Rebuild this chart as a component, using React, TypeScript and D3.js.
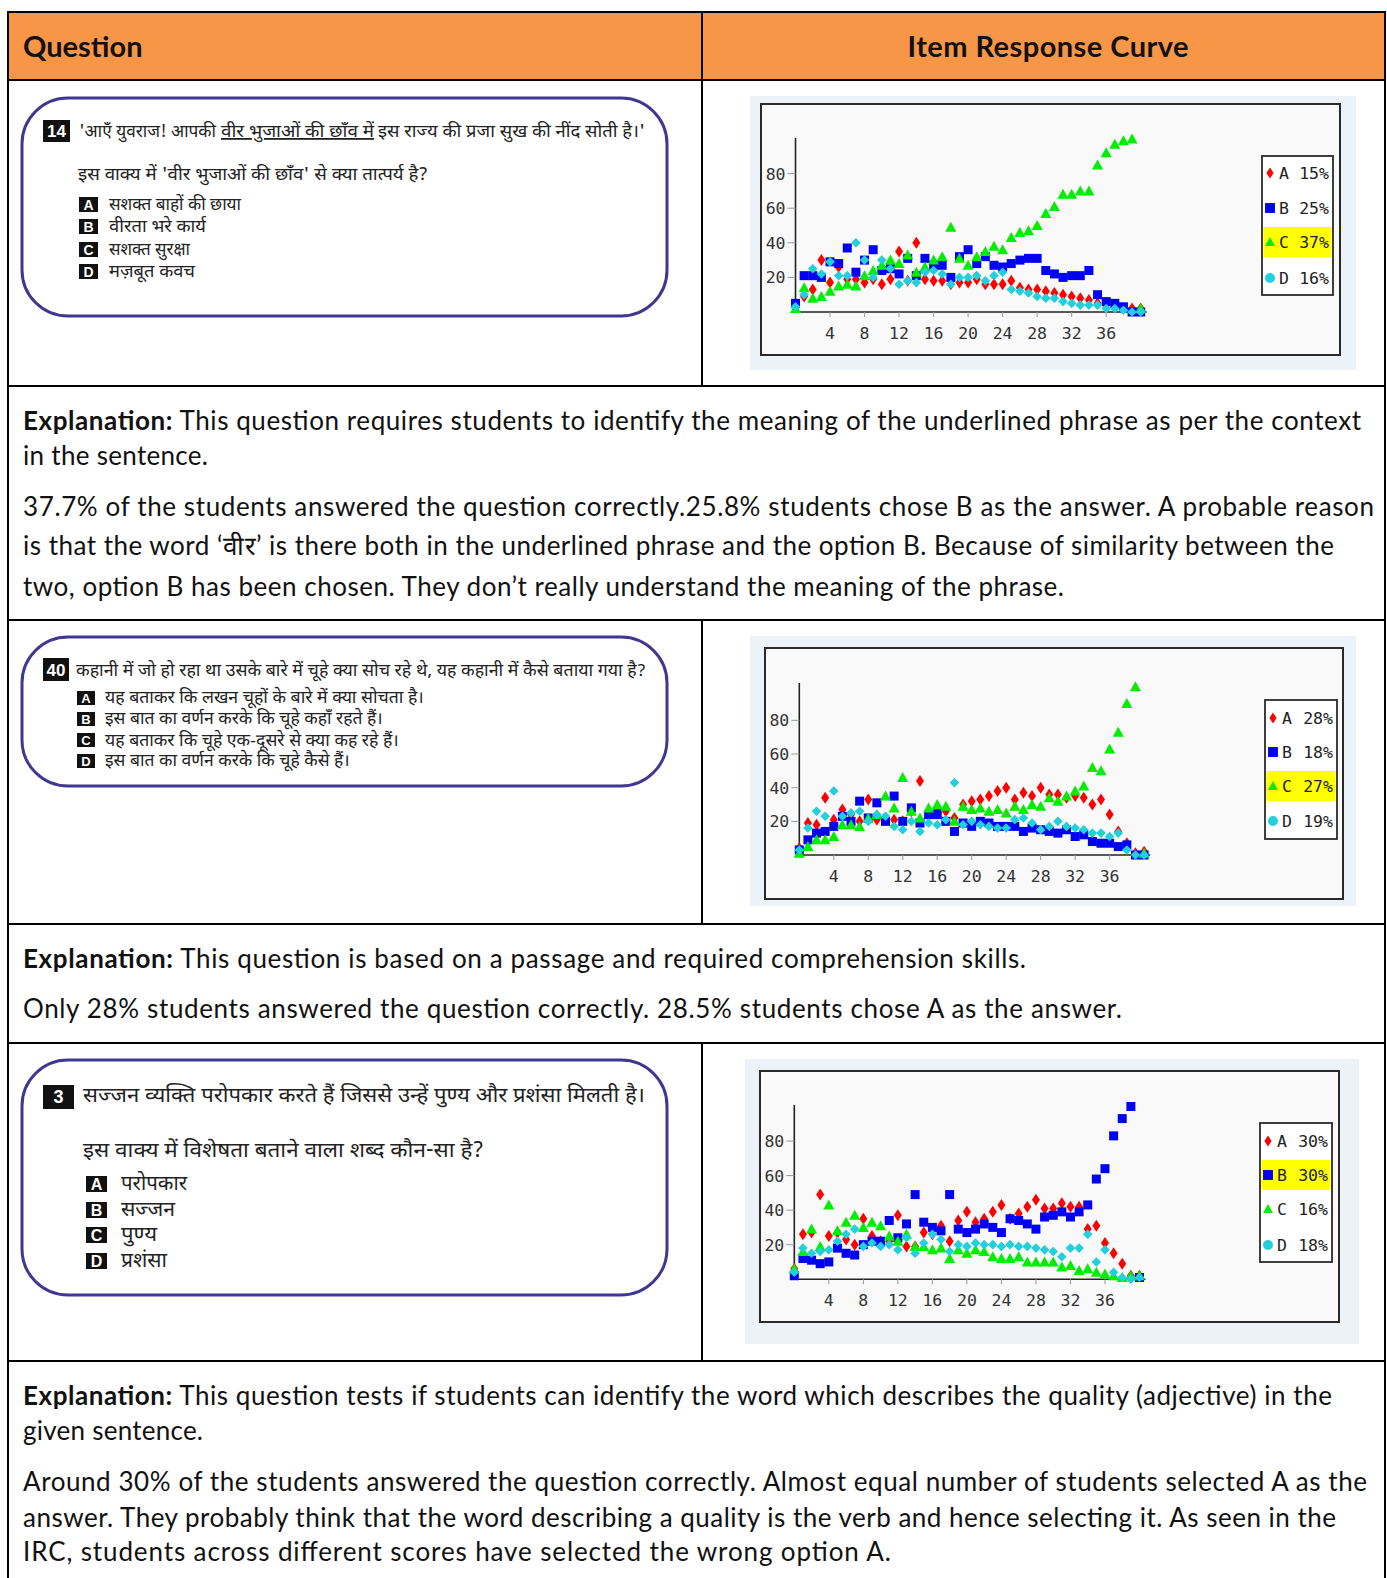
import React from "react";
import * as d3 from "d3";

// ---------- DATA ----------
const scores = d3.range(0, 41);
const optionLabels = ["A", "B", "C", "D"];
const xTicks = [4, 8, 12, 16, 20, 24, 28, 32, 36];
const yTicks = [20, 40, 60, 80];

// Question 14
const q14A = [3, 9, 13, 30, 17, 26, 19, 19, 17, 19, 16, 19, 35, 18, 40, 19, 18, 18, 16, 17, 17, 19, 16, 16, 16, 18, 14, 13, 13, 12, 11, 10, 9, 8, 7, 5, 4, 3, 2, 2, 2];
const q14B = [5, 21, 21, 20, 29, 28, 37, 23, 30, 36, 24, 25, 22, 31, 21, 31, 27, 27, 20, 32, 36, 28, 32, 27, 26, 28, 30, 31, 31, 24, 22, 20, 21, 21, 24, 10, 6, 5, 3, 0, 0];
const q14C = [2, 14, 8, 9, 12, 15, 16, 15, 21, 24, 27, 30, 28, 33, 23, 26, 30, 32, 49, 31, 27, 32, 35, 38, 36, 43, 46, 47, 50, 57, 61, 68, 68, 70, 70, 85, 92, 97, 99, 100, 2];
const q14D = [3, 10, 25, 22, 29, 21, 21, 40, 30, 20, 30, 25, 16, 18, 17, 23, 24, 22, 16, 20, 20, 21, 18, 21, 23, 13, 12, 11, 9, 8, 8, 6, 5, 4, 4, 4, 2, 2, 1, 0, 0];
const legend14 = [15, 25, 37, 16];

// Question 40
const q40A = [4, 19, 18, 34, 21, 27, 24, 20, 33, 21, 22, 21, 20, 26, 44, 24, 27, 26, 22, 30, 32, 33, 35, 38, 40, 33, 37, 35, 40, 36, 36, 34, 35, 34, 30, 33, 24, 14, 7, 1, 2];
const q40B = [3, 9, 13, 14, 17, 23, 20, 32, 22, 31, 20, 35, 20, 28, 19, 24, 24, 20, 14, 19, 17, 20, 19, 17, 17, 17, 14, 16, 15, 14, 13, 15, 11, 12, 8, 7, 7, 5, 6, 0, 0];
const q40C = [1, 5, 9, 9, 11, 18, 18, 17, 22, 24, 35, 28, 46, 26, 22, 28, 30, 29, 20, 29, 27, 28, 26, 27, 25, 29, 27, 30, 29, 34, 32, 35, 38, 41, 52, 50, 63, 73, 90, 100, 1];
const q40D = [3, 16, 26, 23, 38, 23, 25, 26, 20, 24, 23, 17, 15, 20, 14, 19, 18, 21, 43, 18, 20, 18, 17, 16, 16, 21, 22, 19, 15, 17, 20, 17, 16, 15, 13, 13, 11, 13, 3, 0, 0];
const legend40 = [28, 18, 27, 19];

// Question 3
const q3A = [6, 26, 27, 49, 25, 27, 23, 20, 35, 25, 22, 22, 37, 19, 19, 27, 26, 31, 22, 34, 39, 33, 35, 39, 43, 35, 38, 42, 46, 41, 41, 44, 42, 42, 29, 31, 21, 15, 9, 2, 2];
const q3B = [2, 12, 11, 9, 10, 18, 15, 14, 20, 22, 22, 34, 24, 32, 49, 33, 30, 28, 49, 29, 27, 29, 32, 30, 27, 35, 34, 32, 29, 36, 37, 39, 36, 39, 43, 58, 64, 83, 93, 100, 1];
const q3C = [6, 16, 29, 19, 43, 28, 33, 37, 30, 33, 31, 25, 22, 26, 19, 19, 17, 18, 12, 17, 15, 17, 16, 13, 12, 12, 13, 10, 10, 10, 10, 7, 8, 5, 6, 4, 3, 2, 1, 2, 2];
const q3D = [4, 18, 15, 16, 17, 22, 26, 29, 19, 21, 19, 20, 17, 24, 15, 21, 26, 23, 16, 20, 19, 21, 20, 20, 19, 20, 19, 19, 18, 17, 16, 13, 18, 18, 26, 10, 17, 4, 1, 0, 1];
const legend3 = [30, 30, 16, 18];

// Text
const q14Line1a = "'आएँ युवराज! आपकी";
const q14Line1b = "वीर भुजाओं की छाँव में";
const q14Line1c = "इस राज्य की प्रजा सुख की नींद सोती है।'";
const q14Line2 = "इस वाक्य में 'वीर भुजाओं की छाँव' से क्या तात्पर्य है?";
const q14Options = ["सशक्त बाहों की छाया", "वीरता भरे कार्य", "सशक्त सुरक्षा", "मज़बूत कवच"];

const q40Line1 = "कहानी में जो हो रहा था उसके बारे में चूहे क्या सोच रहे थे, यह कहानी में कैसे बताया गया है?";
const q40Options = [
  "यह बताकर कि लखन चूहों के बारे में क्या सोचता है।",
  "इस बात का वर्णन करके कि चूहे कहाँ रहते हैं।",
  "यह बताकर कि चूहे एक-दूसरे से क्या कह रहे हैं।",
  "इस बात का वर्णन करके कि चूहे कैसे हैं।",
];

const q3Line1 = "सज्जन व्यक्ति परोपकार करते हैं जिससे उन्हें पुण्य और प्रशंसा मिलती है।";
const q3Line2 = "इस वाक्य में विशेषता बताने वाला शब्द कौन-सा है?";
const q3Options = ["परोपकार", "सज्जन", "पुण्य", "प्रशंसा"];

const exp14Para1 = [
  " This question requires students to identify the meaning of the underlined phrase as per the context",
  "in the sentence.",
];
const exp14Para2 = [
  "37.7% of the students answered the question correctly.25.8% students chose B as the answer. A probable reason",
  "is that the word \u2018वीर\u2019 is there both in the underlined phrase and the option B. Because of similarity between the",
  "two, option B has been chosen. They don\u2019t really understand the meaning of the phrase.",
];
const exp40Para1 = [" This question is based on a passage and required comprehension skills."];
const exp40Para2 = ["Only 28% students answered the question correctly. 28.5% students chose A as the answer."];
const exp3Para1 = [
  " This question tests if students can identify the word which describes the quality (adjective) in the",
  "given sentence.",
];
const exp3Para2 = [
  "Around 30% of the students answered the question correctly. Almost equal number of students selected A as the",
  "answer. They probably think that the word describing a quality is the verb and hence selecting it. As seen in the",
  "IRC, students across different scores have selected the wrong option A.",
];

// ---------- STYLE / LAYOUT ----------
const W = 1387;
const H = 1578;
const COLORS = ["#ff0000", "#0000f5", "#00ee00", "#22d0dc"];
const ORANGE = "#f79646";
const HINDI = "'Noto Sans Devanagari', 'Lohit Devanagari', 'Noto Sans', sans-serif";
const LATIN = "Lato, 'Open Sans', sans-serif";
const MONO = "'DejaVu Sans Mono', monospace";
const BOX_STROKE = "#3f3790";

const markerPaths = [
  "M0,-6L4,0L0,6L-4,0Z",
  "M-4.5,-4.5H4.5V4.5H-4.5Z",
  "M0,-5.5L5.5,4.5L-5.5,4.5Z",
  "M0,-4.8L4.8,0L0,4.8L-4.8,0Z",
];

const chartLayouts = [
  { panel: [750, 96, 1356, 370], box: [761, 104, 1340, 355], x0: 795.5, x40: 1140.7, y0: 312, y100: 139, axisTop: 138, legend: [1262, 156, 1333, 295], rowY: [173, 208, 242, 278] },
  { panel: [750, 636, 1356, 906], box: [765, 648, 1343, 899], x0: 799.3, x40: 1144.1, y0: 855, y100: 686.7, axisTop: 683, legend: [1265, 700, 1337, 839], rowY: [718, 752, 786, 821] },
  { panel: [745, 1059, 1359, 1344], box: [760, 1071, 1339, 1322], x0: 794.3, x40: 1139.5, y0: 1279.2, y100: 1106.5, axisTop: 1105, legend: [1260, 1123, 1332, 1262], rowY: [1141, 1175, 1209, 1245] },
];

function IRC({ layout, series, pct, highlight }: any) {
  const x = d3.scaleLinear().domain([0, 40]).range([layout.x0, layout.x40]);
  const y = d3.scaleLinear().domain([0, 100]).range([layout.y0, layout.y100]);
  const [px0, py0, px1, py1] = layout.panel;
  const [bx0, by0, bx1, by1] = layout.box;
  const [lx0, ly0, lx1, ly1] = layout.legend;
  return (
    <g>
      <rect x={px0} y={py0} width={px1 - px0} height={py1 - py0} fill="#edf2f9" />
      <rect x={bx0} y={by0} width={bx1 - bx0} height={by1 - by0} fill="#f9f9f9" stroke="#2a2a2a" strokeWidth={2} />
      {/* axes */}
      <line x1={x(0)} x2={x(0)} y1={y(0)} y2={layout.axisTop} stroke="#222" strokeWidth={1.6} />
      <line x1={x(0)} x2={x(40) + 6} y1={y(0)} y2={y(0)} stroke="#222" strokeWidth={1.6} />
      {yTicks.map((t) => (
        <g key={"y" + t}>
          <line x1={x(0) - 8} x2={x(0)} y1={y(t)} y2={y(t)} stroke="#999" strokeWidth={1} />
          <text x={x(0) - 10} y={y(t) + 6} textAnchor="end" fontFamily={MONO} fontSize={16.5} fill="#333">{t}</text>
        </g>
      ))}
      {xTicks.map((t) => (
        <g key={"x" + t}>
          <line x1={x(t)} x2={x(t)} y1={y(0)} y2={y(0) + 5} stroke="#999" strokeWidth={1} />
          <text x={x(t)} y={y(0) + 27} textAnchor="middle" fontFamily={MONO} fontSize={16.5} fill="#333">{t}</text>
        </g>
      ))}
      {/* points */}
      {series.map((s: number[], si: number) => (
        <g key={"s" + si} fill={COLORS[si]}>
          {s.map((v, i) => (
            <path key={i} d={markerPaths[si]} transform={`translate(${x(scores[i])},${y(v)})`} />
          ))}
        </g>
      ))}
      {/* legend */}
      <rect x={lx0} y={ly0} width={lx1 - lx0} height={ly1 - ly0} fill="#ffffff" stroke="#2a2a2a" strokeWidth={1.8} />
      <rect x={lx0 + 1.5} y={layout.rowY[highlight] - 15} width={lx1 - lx0 - 3} height={30} fill="#ffff00" />
      {optionLabels.map((lab, i) => (
        <g key={lab}>
          {i === 3 ? (
            <circle cx={lx0 + 8} cy={layout.rowY[i]} r={5} fill={COLORS[i]} />
          ) : (
            <path d={markerPaths[i]} transform={`translate(${lx0 + 8},${layout.rowY[i]}) scale(${i === 1 ? 1.1 : 0.9})`} fill={COLORS[i]} />
          )}
          <text x={lx0 + 17} y={layout.rowY[i] + 6} fontFamily={MONO} fontSize={16.5} fill="#222">{lab}</text>
          <text x={lx1 - 4} y={layout.rowY[i] + 6} textAnchor="end" fontFamily={MONO} fontSize={16.5} fill="#222">{pct[i] + "%"}</text>
        </g>
      ))}
    </g>
  );
}

function HText({ x, y, end, size, children, underline }: any) {
  return (
    <text x={x} y={y} fontFamily={HINDI} fontSize={size} fill="#222" textLength={end - x} lengthAdjust="spacingAndGlyphs" textDecoration={underline ? "underline" : undefined}>
      {children}
    </text>
  );
}

function LabelBox({ x, y, w, h, label, size }: any) {
  return (
    <g>
      <rect x={x} y={y} width={w} height={h} fill="#111" />
      <text x={x + w / 2} y={y + h / 2 + size * 0.36} textAnchor="middle" fontFamily="'Liberation Sans', Arial, sans-serif" fontWeight="bold" fontSize={size} fill="#fff">{label}</text>
    </g>
  );
}

function QBox({ x0, y0, x1, y1 }: any) {
  return <rect x={x0} y={y0} width={x1 - x0} height={y1 - y0} rx={46} ry={46} fill="#fff" stroke={BOX_STROKE} strokeWidth={3} />;
}

function Para({ lines, pos, boldFirst }: any) {
  return (
    <g>
      {lines.map((l: string, i: number) => (
        <text key={i} x={23} y={pos[i][0]} fontFamily={LATIN} fontSize={26} fill="#111" textLength={pos[i][1] - 23} lengthAdjust="spacing">
          {boldFirst && i === 0 ? <tspan fontWeight="bold">Explanation:</tspan> : null}
          {l}
        </text>
      ))}
    </g>
  );
}

export default function App() {
  const hLines = [12, 80, 386, 620, 924, 1043, 1361];
  return (
    <div style={{ position: "absolute", left: 0, top: 0 }}>
      <svg width={W} height={H} viewBox={`0 0 ${W} ${H}`} style={{ display: "block", background: "#fff" }}>
        {/* header */}
        <rect x={8} y={12} width={1377} height={68} fill={ORANGE} />
        <text x={23} y={57} fontFamily={LATIN} fontWeight="bold" fontSize={29} fill="#111">Question</text>
        <text x={1048} y={57} textAnchor="middle" fontFamily={LATIN} fontWeight="bold" fontSize={29} fill="#111" textLength={281} lengthAdjust="spacing">Item Response Curve</text>

        {/* Question 14 */}
        <QBox x0={22} y0={98} x1={667} y1={316} />
        <LabelBox x={43} y={120} w={27} h={22} label="14" size={17} />
        <HText x={79} y={137} end={216} size={18}>{q14Line1a}</HText>
        <HText x={221} y={137} end={374} size={18} underline>{q14Line1b}</HText>
        <HText x={378} y={137} end={645} size={18}>{q14Line1c}</HText>
        <HText x={78} y={180} end={428} size={18}>{q14Line2}</HText>
        {q14Options.map((t, i) => (
          <g key={i}>
            <LabelBox x={79} y={[197, 219, 242, 264][i]} w={19} h={15} label={optionLabels[i]} size={14} />
            <HText x={109} y={[210, 232, 255, 277][i]} end={[241, 206, 190, 195][i]} size={18}>{t}</HText>
          </g>
        ))}

        {/* Question 40 */}
        <QBox x0={22} y0={637} x1={667} y1={786} />
        <LabelBox x={43} y={658} w={26} h={23} label="40" size={17} />
        <HText x={76} y={676} end={646} size={17}>{q40Line1}</HText>
        {q40Options.map((t, i) => (
          <g key={i}>
            <LabelBox x={77} y={[691, 712, 733, 754][i]} w={18} h={14} label={optionLabels[i]} size={13} />
            <HText x={105} y={[703, 724, 746, 766][i]} end={[424, 383, 399, 350][i]} size={17}>{t}</HText>
          </g>
        ))}

        {/* Question 3 */}
        <QBox x0={22} y0={1060} x1={667} y1={1295} />
        <LabelBox x={43} y={1085} w={31} h={24} label="3" size={18} />
        <HText x={83} y={1102} end={645} size={21}>{q3Line1}</HText>
        <HText x={83} y={1157} end={484} size={21}>{q3Line2}</HText>
        {q3Options.map((t, i) => (
          <g key={i}>
            <LabelBox x={86} y={[1176, 1202, 1227, 1253][i]} w={21} h={16} label={optionLabels[i]} size={16} />
            <HText x={121} y={[1190, 1216, 1241, 1267][i]} end={[187, 175, 157, 167][i]} size={21}>{t}</HText>
          </g>
        ))}

        {/* charts */}
        <IRC layout={chartLayouts[0]} series={[q14A, q14B, q14C, q14D]} pct={legend14} highlight={2} />
        <IRC layout={chartLayouts[1]} series={[q40A, q40B, q40C, q40D]} pct={legend40} highlight={2} />
        <IRC layout={chartLayouts[2]} series={[q3A, q3B, q3C, q3D]} pct={legend3} highlight={1} />

        {/* explanations */}
        <Para lines={exp14Para1} pos={[[430, 1361], [465, 208]]} boldFirst />
        <Para lines={exp14Para2} pos={[[516, 1374], [555, 1334], [596, 1064]]} />
        <Para lines={exp40Para1} pos={[[968, 1026]]} boldFirst />
        <Para lines={exp40Para2} pos={[[1018, 1122]]} />
        <Para lines={exp3Para1} pos={[[1405, 1332], [1440, 203]]} boldFirst />
        <Para lines={exp3Para2} pos={[[1491, 1367], [1527, 1336], [1561, 891]]} />

        {/* table grid */}
        {hLines.map((yy) => (
          <line key={yy} x1={7} x2={1386} y1={yy} y2={yy} stroke="#000" strokeWidth={2} />
        ))}
        <line x1={8} x2={8} y1={11} y2={H} stroke="#000" strokeWidth={2} />
        <line x1={1385} x2={1385} y1={11} y2={H} stroke="#000" strokeWidth={2} />
        <line x1={702} x2={702} y1={12} y2={386} stroke="#000" strokeWidth={2} />
        <line x1={702} x2={702} y1={620} y2={924} stroke="#000" strokeWidth={2} />
        <line x1={702} x2={702} y1={1043} y2={1361} stroke="#000" strokeWidth={2} />
      </svg>
    </div>
  );
}
